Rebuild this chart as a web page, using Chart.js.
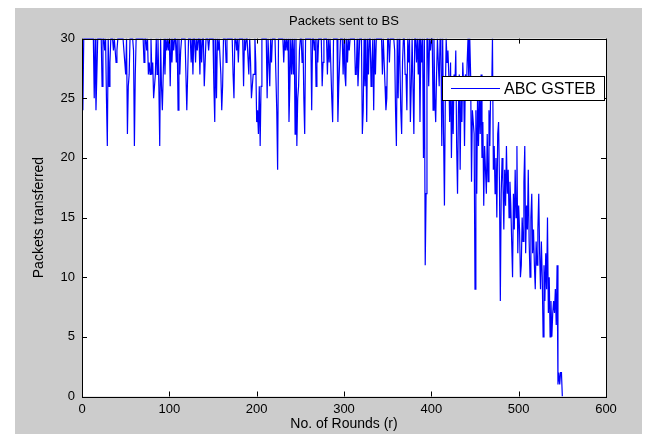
<!DOCTYPE html>
<html>
<head>
<meta charset="utf-8">
<title>Packets sent to BS</title>
<script src="https://cdn.jsdelivr.net/npm/chart.js@4/dist/chart.umd.min.js"></script>
<style>
  html, body { margin: 0; padding: 0; background: #fff; }
  .chart-box { width: 657px; height: 434px; position: relative; }
</style>
</head>
<body>
<div class="chart-box">
  <canvas id="packets-chart"></canvas>
</div>
<script>
const seriesLabel = 'ABC GSTEB';
const roundTicks = [0, 100, 200, 300, 400, 500, 600];
const packetTicks = [0, 5, 10, 15, 20, 25, 30];

// packets delivered to the base station, one value per round starting at round 1
const packets = [
  24, 30, 30, 30, 30, 30, 30, 30, 30, 30,
  30, 30, 30, 25, 30, 24, 27, 30, 30, 30,
  30, 30, 26, 30, 30, 29, 30, 25, 21, 30,
  26, 28, 30, 30, 30, 29, 30, 29, 28, 29,
  30, 30, 30, 30, 30, 30, 30, 30, 28, 27,
  30, 22, 26, 27, 30, 30, 30, 30, 29, 21,
  27, 30, 30, 30, 30, 30, 30, 30, 30, 30,
  28, 30, 30, 29, 30, 27, 28, 27, 30, 27,
  28, 25, 26, 27, 30, 27, 30, 26, 21, 30,
  26, 24, 27, 30, 27, 30, 29, 30, 29, 30,
  26, 30, 28, 30, 29, 30, 30, 28, 30, 24,
  30, 27, 29, 30, 30, 30, 30, 30, 30, 24,
  27, 30, 30, 30, 28, 30, 27, 30, 30, 28,
  30, 29, 30, 30, 27, 30, 28, 30, 30, 26,
  28, 30, 30, 30, 29, 30, 30, 30, 30, 30,
  26, 23, 30, 25, 30, 29, 30, 30, 27, 24,
  26, 30, 30, 30, 28, 30, 30, 30, 30, 30,
  30, 30, 27, 25, 30, 30, 29, 30, 28, 30,
  30, 30, 30, 30, 26, 30, 29, 30, 30, 30,
  27, 30, 28, 25, 26, 27, 27, 30, 28, 23,
  24, 22, 26, 21, 26, 30, 30, 30, 30, 30,
  30, 25, 30, 30, 26, 30, 28, 30, 30, 30,
  30, 30, 24, 19, 30, 30, 30, 30, 30, 30,
  28, 30, 29, 30, 29, 30, 23, 26, 30, 27,
  30, 27, 30, 22, 30, 21, 25, 26, 29, 30,
  30, 28, 30, 25, 22, 30, 30, 30, 30, 30,
  30, 30, 24, 30, 30, 29, 30, 26, 30, 28,
  30, 30, 30, 30, 26, 28, 30, 30, 30, 30,
  27, 30, 28, 30, 30, 25, 23, 30, 30, 30,
  30, 30, 23, 26, 28, 30, 30, 30, 27, 30,
  27, 26, 30, 28, 30, 29, 30, 30, 30, 30,
  30, 30, 27, 27, 30, 26, 28, 30, 30, 30,
  22, 24, 30, 26, 30, 23, 30, 27, 30, 30,
  26, 28, 30, 24, 30, 27, 30, 30, 30, 30,
  30, 30, 30, 27, 30, 28, 26, 24, 25, 30,
  30, 28, 30, 30, 30, 30, 30, 29, 24, 21,
  30, 25, 30, 28, 24, 22, 28, 30, 30, 27,
  27, 24, 30, 28, 30, 23, 26, 30, 30, 22,
  30, 30, 28, 30, 27, 30, 23, 30, 28, 30,
  20, 30, 11, 17, 30, 30, 26, 30, 29, 30,
  30, 24, 30, 25, 23, 27, 30, 28, 26, 30,
  29, 21, 30, 22, 16, 25, 30, 28, 29, 27,
  23, 28, 20, 25, 22, 27, 26, 29, 21, 17,
  24, 27, 19, 26, 23, 28, 26, 21, 27, 25,
  28, 30, 26, 30, 27, 18, 24, 23, 22, 9,
  24, 17, 26, 21, 25, 22, 27, 20, 23, 16,
  21, 19, 17, 22, 18, 24, 21, 26, 25, 30,
  19, 21, 17, 20, 15, 22, 23, 18, 8, 17,
  20, 18, 14, 19, 16, 21, 17, 19, 15, 18,
  16, 13, 10, 17, 14, 19, 15, 21, 12, 16,
  14, 10, 11, 15, 13, 18, 21, 12, 16, 14,
  19, 13, 10, 15, 17, 12, 14, 11, 9, 13,
  11, 14, 17, 12, 9, 13, 10, 5, 11, 8,
  12, 9, 15, 7, 10, 5, 8, 5, 7, 8,
  7, 9, 6, 11, 1, 2, 1, 2, 2, 0,
];

const lineColor = '#0000ff';
const textColor = '#000';
const fontFamily = '"Liberation Sans", Arial, sans-serif';

// gray figure background, white axes, boxed frame with inward ticks and a boxed legend
const matlabFrame = {
  id: 'matlabFrame',
  beforeDraw(chart) {
    const { ctx, chartArea: a } = chart;
    ctx.save();
    ctx.fillStyle = '#fff';
    ctx.fillRect(0, 0, chart.width, chart.height);
    ctx.fillStyle = '#cccccc';
    ctx.fillRect(15, 8, 627, chart.height - 8);
    ctx.fillStyle = '#fff';
    ctx.fillRect(a.left, a.top, a.right - a.left, a.bottom - a.top);
    ctx.restore();
  },
  afterDatasetsDraw(chart) {
    const { ctx, chartArea: a, scales } = chart;
    const tick = 5;
    ctx.save();
    ctx.strokeStyle = '#000';
    ctx.lineWidth = 1;
    ctx.beginPath();
    scales.x.ticks.forEach((t) => {
      const px = Math.round(scales.x.getPixelForValue(t.value)) + 0.5;
      ctx.moveTo(px, a.bottom);
      ctx.lineTo(px, a.bottom - tick);
      ctx.moveTo(px, a.top);
      ctx.lineTo(px, a.top + tick);
    });
    scales.y.ticks.forEach((t) => {
      const py = Math.round(scales.y.getPixelForValue(t.value)) + 0.5;
      ctx.moveTo(a.left, py);
      ctx.lineTo(a.left + tick, py);
      ctx.moveTo(a.right, py);
      ctx.lineTo(a.right - tick, py);
    });
    ctx.stroke();
    ctx.strokeRect(Math.round(a.left) + 0.5, Math.round(a.top) + 0.5,
      Math.round(a.right - a.left), Math.round(a.bottom - a.top));

    // legend box
    const ds = chart.data.datasets[0];
    const box = { x: 442.5, y: 76.5, w: 162, h: 24 };
    ctx.fillStyle = '#fff';
    ctx.fillRect(box.x, box.y, box.w, box.h);
    ctx.strokeRect(box.x, box.y, box.w, box.h);
    ctx.strokeStyle = ds.borderColor;
    ctx.beginPath();
    ctx.moveTo(451, box.y + box.h / 2);
    ctx.lineTo(500, box.y + box.h / 2);
    ctx.stroke();
    ctx.fillStyle = textColor;
    ctx.font = '16px ' + fontFamily;
    ctx.textBaseline = 'middle';
    ctx.fillText(ds.label, 504, box.y + box.h / 2 + 1);
    ctx.restore();
  },
};

const ctx = document.getElementById('packets-chart').getContext('2d');

new Chart(ctx, {
  type: 'line',
  data: {
    datasets: [
      {
        label: seriesLabel,
        data: packets.map((v, i) => ({ x: i + 1, y: v })),
        borderColor: lineColor,
        borderWidth: 1.2,
        pointRadius: 0,
        tension: 0,
        fill: false,
      },
    ],
  },
  options: {
    responsive: true,
    maintainAspectRatio: false,
    animation: false,
    events: [],
    layout: {
      padding: { left: 0, right: 51, top: 0, bottom: 0 },
    },
    scales: {
      x: {
        type: 'linear',
        min: 0,
        max: 600,
        afterBuildTicks(scale) {
          scale.ticks = roundTicks.map((value) => ({ value }));
        },
        afterFit(scale) {
          scale.height = 37.5;
        },
        grid: { display: false, drawTicks: false },
        border: { display: false },
        ticks: {
          padding: 5,
          color: textColor,
          font: { family: fontFamily, size: 13 },
          maxRotation: 0,
        },
        title: {
          display: true,
          text: 'No. of Rounds (r)',
          color: textColor,
          font: { family: fontFamily, size: 14 },
          padding: { top: 0, bottom: 1 },
        },
      },
      y: {
        type: 'linear',
        min: 0,
        max: 30,
        afterBuildTicks(scale) {
          scale.ticks = packetTicks.map((value) => ({ value }));
        },
        afterFit(scale) {
          scale.width = 82;
        },
        grid: { display: false, drawTicks: false },
        border: { display: false },
        ticks: {
          padding: 7,
          color: textColor,
          font: { family: fontFamily, size: 13 },
        },
        title: {
          display: true,
          text: 'Packets transferred',
          color: textColor,
          font: { family: fontFamily, size: 14 },
          padding: { top: 31, bottom: 0 },
        },
      },
    },
    plugins: {
      legend: { display: false },
      tooltip: { enabled: false },
      title: {
        display: true,
        text: 'Packets sent to BS',
        fullSize: false,
        color: textColor,
        font: { family: fontFamily, size: 13, weight: 'normal' },
        padding: { top: 14, bottom: 9 },
      },
    },
  },
  plugins: [matlabFrame],
});
</script>
</body>
</html>
